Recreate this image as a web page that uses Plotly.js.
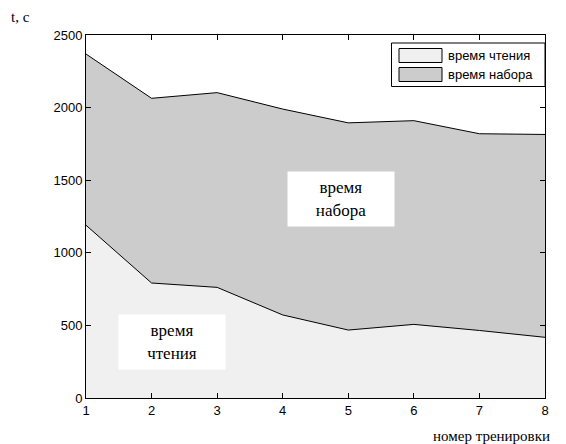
<!DOCTYPE html>
<html><head><meta charset="utf-8">
<script src="https://cdn.plot.ly/plotly-3.0.1.min.js"></script>
<style>body{margin:0;background:#fff}#c{width:566px;height:444px}</style>
</head><body><div id="c"></div>
<script>
const sessions = [1, 2, 3, 4, 5, 6, 7, 8];
const readTime = [1190, 792, 762, 572, 468, 507, 465, 418];
const typeTime = [1179, 1272, 1341, 1418, 1427, 1403, 1355, 1397];
const yTicks = [0, 500, 1000, 1500, 2000, 2500];
const seriesNames = ['время чтения', 'время набора'];
const fills = ['#f0f0f0', '#cccccc'];

const traces = [
  {x: sessions, y: readTime, name: seriesNames[0], stackgroup: 'a', mode: 'lines',
   line: {color: '#000', width: 1}, fillcolor: fills[0], showlegend: false},
  {x: sessions, y: typeTime, name: seriesNames[1], stackgroup: 'a', mode: 'lines',
   line: {color: '#000', width: 1}, fillcolor: fills[1], showlegend: false}
];
const tickFont = {family: 'Liberation Sans', size: 13, color: '#000'};
const serifFam = 'Liberation Serif';
const P = (px) => (px - 86) / 459;
const Q = (py) => (398 - py) / 363;

const shapes = [
  {type: 'rect', xref: 'paper', yref: 'paper', x0: P(391.5), x1: P(545), y0: Q(86.5), y1: Q(43),
   fillcolor: '#fff', line: {color: '#000', width: 1}},
  {type: 'rect', xref: 'paper', yref: 'paper', x0: P(399), x1: P(442), y0: Q(62.5), y1: Q(48.5),
   fillcolor: fills[0], line: {color: '#000', width: 1}},
  {type: 'rect', xref: 'paper', yref: 'paper', x0: P(399), x1: P(442), y0: Q(81.5), y1: Q(67.5),
   fillcolor: fills[1], line: {color: '#000', width: 1}}
];

const layout = {
  width: 566, height: 444,
  margin: {l: 86, r: 21, t: 35, b: 46},
  paper_bgcolor: '#fff', plot_bgcolor: '#fff',
  showlegend: false,
  xaxis: {range: [1, 8], tickvals: sessions, ticks: 'inside', ticklen: 5, tickcolor: '#000',
    showline: true, linecolor: '#000', linewidth: 1, mirror: 'allticks', showgrid: false,
    zeroline: false, tickfont: tickFont},
  yaxis: {range: [0, 2500], tickvals: yTicks, ticks: 'inside', ticklen: 5, tickcolor: '#000',
    showline: true, linecolor: '#000', linewidth: 1, mirror: 'allticks', showgrid: false,
    zeroline: false, tickfont: tickFont},
  shapes: shapes,
  annotations: [
    {xref: 'paper', yref: 'paper', x: P(9), y: Q(17), xanchor: 'left', yanchor: 'middle',
     text: 't, c', showarrow: false, font: {family: serifFam, size: 15, color: '#000'}},
    {xref: 'paper', yref: 'paper', x: P(552), y: Q(436), xanchor: 'right', yanchor: 'middle',
     text: 'номер тренировки', showarrow: false, font: {family: serifFam, size: 15, color: '#000'}},
    {xref: 'paper', yref: 'paper', x: P(446), y: Q(55.5), xanchor: 'left', yanchor: 'middle',
     text: seriesNames[0], showarrow: false, font: tickFont},
    {xref: 'paper', yref: 'paper', x: P(446), y: Q(74.5), xanchor: 'left', yanchor: 'middle',
     text: seriesNames[1], showarrow: false, font: tickFont},
    {x: 4.89, y: 1370, text: 'время<br>набора', showarrow: false, bgcolor: '#fff',
     width: 104, height: 52, font: {family: serifFam, size: 17, color: '#000'}},
    {x: 2.31, y: 386, text: 'время<br>чтения', showarrow: false, bgcolor: '#fff',
     width: 104, height: 52, font: {family: serifFam, size: 17, color: '#000'}}
  ]
};
Plotly.newPlot('c', traces, layout, {displayModeBar: false, staticPlot: true});
</script></body></html>
